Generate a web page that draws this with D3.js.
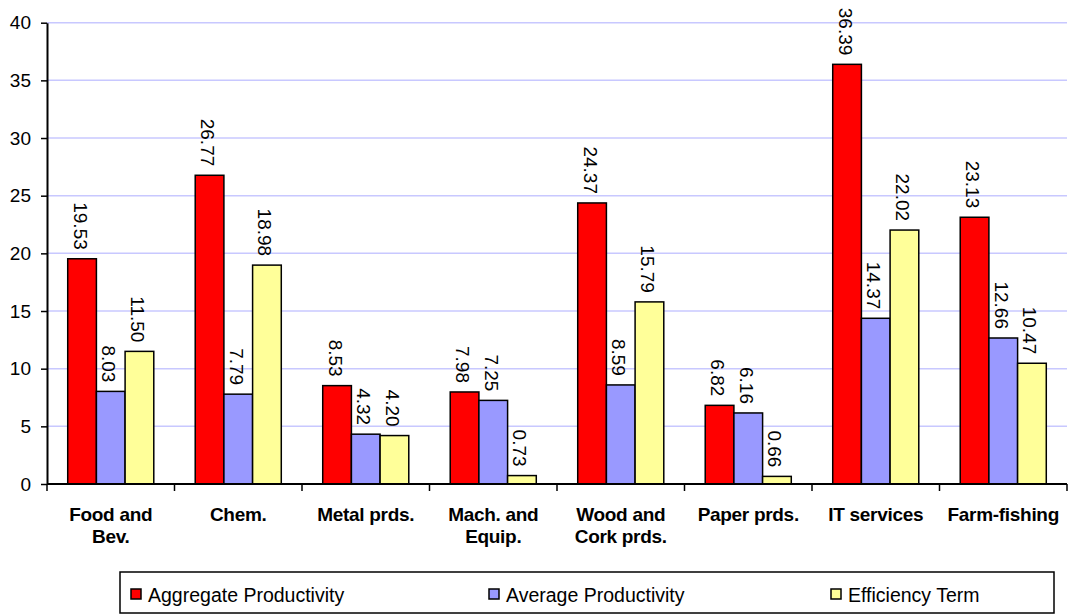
<!DOCTYPE html>
<html>
<head>
<meta charset="utf-8">
<script src="https://cdn.jsdelivr.net/npm/d3@7"></script>
<style>
  html, body { margin: 0; padding: 0; background: #fff; }
  svg { display: block; font-family: Arial, "Liberation Sans", sans-serif; }
</style>
</head>
<body>
<svg id="chart" width="1070" height="614"></svg>
<script>
// Sector labels (split into lines) and the three productivity series
const categories = [
  ["Food and", "Bev."],
  ["Chem."],
  ["Metal prds."],
  ["Mach. and", "Equip."],
  ["Wood and", "Cork prds."],
  ["Paper prds."],
  ["IT services"],
  ["Farm-fishing"]
];
const seriesNames = ["Aggregate Productivity", "Average Productivity", "Efficiency Term"];
const aggregate = [19.53, 26.77, 8.53, 7.98, 24.37, 6.82, 36.39, 23.13];
const average = [8.03, 7.79, 4.32, 7.25, 8.59, 6.16, 14.37, 12.66];
const efficiency = [11.50, 18.98, 4.20, 0.73, 15.79, 0.66, 22.02, 10.47];
const yTicks = [0, 5, 10, 15, 20, 25, 30, 35, 40];

const seriesValues = [aggregate, average, efficiency];
const colors = ["#ff0000", "#9999ff", "#ffff99"];

const svg = d3.select("#chart");
const plot = { left: 47, right: 1067, top: 22.7, bottom: 484 };

const keys = categories.map(c => c.join(" "));
const x0 = d3.scaleBand().domain(keys).range([plot.left, plot.right]);
const bw = x0.bandwidth();
const gap = bw * 0.1625;
const x1 = d3.scaleBand().domain(seriesNames).range([gap, bw - gap]);
const y = d3.scaleLinear().domain([0, 40]).range([plot.bottom, plot.top]);

// Horizontal gridlines
svg.append("g")
  .selectAll("line")
  .data(yTicks.filter(t => t > 0))
  .join("line")
  .attr("x1", plot.left).attr("x2", plot.right)
  .attr("y1", d => y(d)).attr("y2", d => y(d))
  .attr("stroke", "#c8c8ff").attr("stroke-width", 1.5);

// Bars
const groups = svg.append("g")
  .selectAll("g")
  .data(keys)
  .join("g")
  .attr("transform", d => `translate(${x0(d)},0)`);

const cells = (i) => seriesNames.map((s, j) => ({ s, j, v: seriesValues[j][i] }));

groups.selectAll("rect")
  .data((d, i) => cells(i))
  .join("rect")
  .attr("x", d => x1(d.s))
  .attr("width", x1.bandwidth())
  .attr("y", d => y(d.v))
  .attr("height", d => y(0) - y(d.v))
  .attr("fill", d => colors[d.j])
  .attr("stroke", "#000")
  .attr("stroke-width", 1.5);

// Rotated value labels above each bar
groups.selectAll("text.val")
  .data((d, i) => cells(i))
  .join("text")
  .attr("class", "val")
  .attr("transform", d => `translate(${x1(d.s) + x1.bandwidth() / 2 - 2},${y(d.v) - 9}) rotate(90)`)
  .attr("text-anchor", "end")
  .attr("dominant-baseline", "central")
  .attr("font-size", 19)
  .attr("fill", "#000")
  .text(d => d.v.toFixed(2));

// Y axis
const yAxis = svg.append("g")
  .attr("transform", `translate(${plot.left},0)`)
  .call(d3.axisLeft(y).tickValues(yTicks).tickSize(6).tickPadding(10).tickSizeOuter(0));
yAxis.select(".domain").attr("stroke", "#000").attr("stroke-width", 2);
yAxis.selectAll(".tick line").attr("stroke", "#000").attr("stroke-width", 1.5);
yAxis.selectAll(".tick text").attr("font-size", 19).attr("fill", "#000")
  .attr("font-family", "Arial, 'Liberation Sans', sans-serif");

// X axis line and category dividers
svg.append("line")
  .attr("x1", plot.left).attr("x2", plot.right)
  .attr("y1", plot.bottom).attr("y2", plot.bottom)
  .attr("stroke", "#000").attr("stroke-width", 2);
svg.append("g")
  .selectAll("line")
  .data(keys.map(k => x0(k)).concat([plot.right]))
  .join("line")
  .attr("x1", d => d).attr("x2", d => d)
  .attr("y1", plot.bottom).attr("y2", plot.bottom + 7)
  .attr("stroke", "#000").attr("stroke-width", 1.5);

// Category labels
const xl = svg.append("g")
  .selectAll("text")
  .data(categories)
  .join("text")
  .attr("x", (d, i) => x0(keys[i]) + bw / 2)
  .attr("y", 521)
  .attr("text-anchor", "middle")
  .attr("font-size", 19)
  .attr("font-weight", "bold")
  .attr("letter-spacing", -0.3)
  .attr("fill", "#000");
xl.selectAll("tspan")
  .data(d => d)
  .join("tspan")
  .attr("x", function () { return this.parentNode.getAttribute("x"); })
  .attr("dy", (d, i) => i === 0 ? 0 : 22)
  .text(d => d);

// Legend
svg.append("rect")
  .attr("x", 120).attr("y", 572)
  .attr("width", 934).attr("height", 41)
  .attr("fill", "#fff").attr("stroke", "#000").attr("stroke-width", 1.5);

const legendX = [131, 489, 831];
const legend = svg.append("g")
  .selectAll("g")
  .data(seriesNames)
  .join("g")
  .attr("transform", (d, i) => `translate(${legendX[i]},589)`);
legend.append("rect")
  .attr("width", 10).attr("height", 10)
  .attr("fill", (d, i) => colors[i])
  .attr("stroke", "#000").attr("stroke-width", 1.5);
legend.append("text")
  .attr("x", 17).attr("y", 12.5)
  .attr("font-size", 19.5)
  .attr("fill", "#000")
  .text(d => d);
</script>
</body>
</html>
